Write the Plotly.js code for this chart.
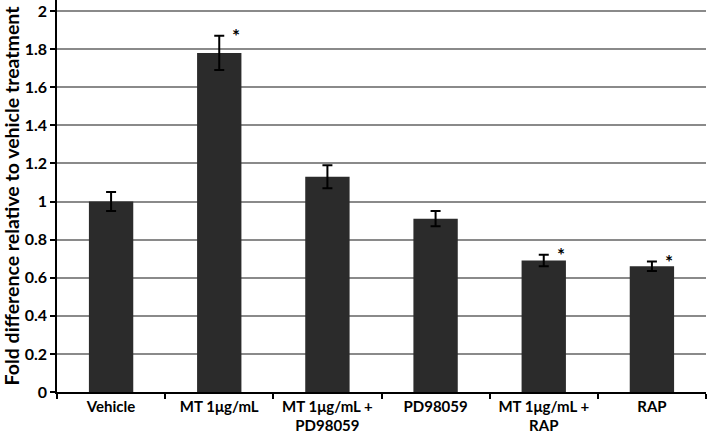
<!DOCTYPE html>
<html><head><meta charset="utf-8">
<script src="https://cdn.plot.ly/plotly-3.0.1.min.js"></script>
<style>body{margin:0;background:#fff}#c{width:708px;height:435px}</style>
</head><body><div id="c"></div>
<script>
const categories = ["Vehicle", "MT 1μg/mL", "MT 1μg/mL +<br>PD98059", "PD98059", "MT 1μg/mL +<br>RAP", "RAP"];
const values = [1.0, 1.78, 1.13, 0.91, 0.69, 0.66];
const errors = [0.05, 0.09, 0.06, 0.04, 0.03, 0.025];
const significant = [false, true, false, false, true, true];
const yTicks = [0, 0.2, 0.4, 0.6, 0.8, 1, 1.2, 1.4, 1.6, 1.8, 2];

const font = "Lato, 'Open Sans', sans-serif";
const annotations = [];
categories.forEach((c, i) => {
  if (significant[i]) {
    annotations.push({x: c, y: values[i] + errors[i], xref: 'x', yref: 'y', text: '<b>*</b>', showarrow: false,
      xshift: 17, yshift: 0, font: {family: font, size: 19, color: '#000'}});
  }
});

Plotly.newPlot('c', [{
  type: 'bar', x: categories, y: values,
  marker: {color: '#2b2b2b'},
  width: 0.41,
  error_y: {type: 'data', array: errors, visible: true, color: '#000', thickness: 2, width: 5}
}], {
  width: 708, height: 435,
  margin: {l: 57, r: 2, t: 0, b: 43},
  paper_bgcolor: '#fff', plot_bgcolor: '#fff',
  showlegend: false,
  bargap: 0.59,
  font: {family: font, color: '#000'},
  xaxis: {
    type: 'category', showline: true, linecolor: '#000', linewidth: 1.5,
    ticks: 'outside', tickson: 'boundaries', ticklen: 5, tickcolor: '#000', tickwidth: 1.5,
    tickfont: {family: font, size: 15, color: '#000', weight: 'bold'}, showgrid: false
  },
  yaxis: {
    range: [0, 2.058], tickvals: yTicks, ticktext: yTicks.map(String),
    showline: true, linecolor: '#000', linewidth: 1.5, ticklabeloverflow: 'allow',
    ticks: 'outside', ticklen: 5, tickcolor: '#000', tickwidth: 1.5,
    showgrid: true, gridcolor: '#8a8a8a', gridwidth: 1.5, zeroline: false,
    tickfont: {family: font, size: 16, color: '#000', weight: 'bold'},
    title: {text: '<b>Fold difference relative to vehicle treatment</b>', font: {family: font, size: 19.5, color: '#000'}, standoff: 5}
  },
  annotations: annotations
}, {displayModeBar: false});
</script></body></html>
